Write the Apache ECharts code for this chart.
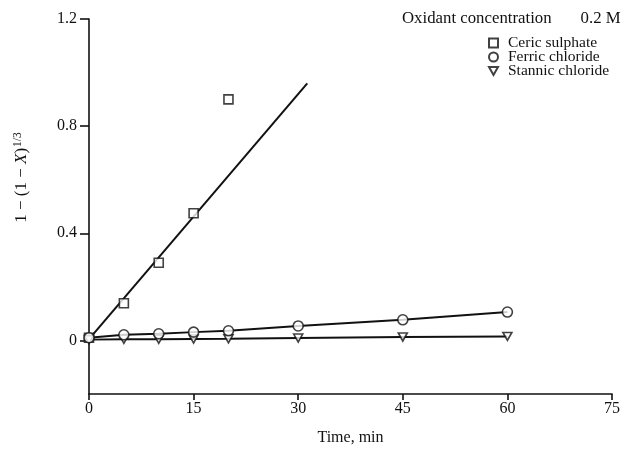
<!DOCTYPE html>
<html>
<head>
<meta charset="utf-8">
<script src="https://cdn.jsdelivr.net/npm/echarts@6/dist/echarts.min.js"></script>
<style>
html,body{margin:0;padding:0;background:#fff;}
#c{width:623px;height:451px;}
</style>
</head>
<body>
<div id="c"></div>
<script>
// Time (min) of measurements
var time = [0, 5, 10, 15, 20, 30, 45, 60];
// Ceric sulphate (measured points up to 20 min)
var cericTime = [0, 5, 10, 15, 20];
var cericY = [0.01, 0.139, 0.29, 0.475, 0.90];
// Ceric sulphate fitted line endpoints
var cericFitTime = [0, 31.3];
var cericFitY = [0.005, 0.96];
// Ferric chloride
var ferricY = [0.01, 0.021, 0.025, 0.031, 0.036, 0.054, 0.077, 0.106];
// Stannic chloride
var stannicY = [0.003, 0.004, 0.004, 0.005, 0.006, 0.009, 0.013, 0.015];
// Axis ticks
var xTicks = [0, 15, 30, 45, 60, 75];
var yTicks = [0, 0.4, 0.8, 1.2];

function pairs(xs, ys){ return xs.map(function(x,i){ return [x, ys[i]]; }); }

var serif = 'Liberation Serif';
var fs = 16;
var chart = echarts.init(document.getElementById('c'), null, {renderer:'canvas'});
var invTri = 'path://M0,0 L10,0 L5,9 Z';

chart.setOption({
  animation: false,
  backgroundColor: '#fff',
  title: {
    text: '{a|Oxidant concentration}{b|0.2 M}',
    left: 402, top: 10, padding: 0,
    textStyle: {
      fontWeight: 'normal', fontFamily: serif, fontSize: 16.8, color: '#111',
      rich: {
        a: {fontFamily: serif, fontSize: 16.8, fontWeight: 'normal', color: '#111'},
        b: {fontFamily: serif, fontSize: 16.8, fontWeight: 'normal', color: '#111', padding: [0,0,0,29]}
      }
    }
  },
  legend: {
    orient: 'vertical',
    left: 488, top: 35, padding: 0,
    itemWidth: 9, itemHeight: 9, itemGap: -2,
    data: ['Ceric sulphate', 'Ferric chloride', 'Stannic chloride'],
    textStyle: {fontFamily: serif, fontSize: 15.5, color: '#111', padding: [0,0,0,5]}
  },
  grid: {left: 89, right: 5, top: 19, bottom: 56},
  xAxis: {
    type: 'value', min: 0, max: 75, interval: 15,
    name: 'Time, min', nameLocation: 'middle', nameGap: 36,
    nameTextStyle: {fontFamily: serif, fontSize: fs, color: '#111'},
    axisLine: {onZero: false, lineStyle: {color: '#111', width: 1.6}},
    axisTick: {inside: false, length: 6, lineStyle: {color: '#111', width: 1.6}, customValues: xTicks},
    axisLabel: {fontFamily: serif, fontSize: fs, color: '#111', margin: 7, customValues: xTicks},
    splitLine: {show: false}
  },
  yAxis: {
    type: 'value', min: -0.2, max: 1.2,
    name: '{a|1 − (1 − }{i|X}{a|)}{s|1/3}', nameLocation: 'middle', nameGap: 57,
    nameRotate: 90,
    nameTextStyle: {
      fontFamily: serif, fontSize: 17, color: '#111', padding: [0,0,0,58],
      rich: {
        a: {fontFamily: serif, fontSize: 17, color: '#111'},
        i: {fontFamily: serif, fontSize: 17, fontStyle: 'italic', color: '#111'},
        s: {fontFamily: serif, fontSize: 11.5, color: '#111', verticalAlign: 'top', padding: [0,0,8,1]}
      }
    },
    axisLine: {lineStyle: {color: '#111', width: 1.6}},
    axisTick: {inside: false, length: 9, lineStyle: {color: '#111', width: 1.6}, customValues: yTicks},
    axisLabel: {fontFamily: serif, fontSize: fs, color: '#111', margin: 12, customValues: yTicks,
      formatter: function(v){ return v === 0 ? '0' : v.toFixed(1); }},
    splitLine: {show: false}
  },
  series: [
    {
      type: 'line', data: pairs(cericFitTime, cericFitY), showSymbol: false, symbol: 'none',
      lineStyle: {color: '#111', width: 2}, silent: true, z: 2
    },
    {
      type: 'line', data: pairs(time, ferricY), symbol: 'none',
      lineStyle: {color: '#111', width: 2}, silent: true, z: 2
    },
    {
      type: 'line', data: pairs(time, stannicY), symbol: 'none',
      lineStyle: {color: '#111', width: 2}, silent: true, z: 2
    },
    {
      name: 'Ceric sulphate', type: 'scatter', data: pairs(cericTime, cericY),
      symbol: 'rect', symbolSize: 9,
      itemStyle: {color: '#fff', borderColor: '#111', borderWidth: 1.6}, z: 3
    },
    {
      name: 'Ferric chloride', type: 'scatter', data: pairs(time, ferricY),
      symbol: 'circle', symbolSize: 10,
      itemStyle: {color: '#fff', borderColor: '#111', borderWidth: 1.6}, z: 4
    },
    {
      name: 'Stannic chloride', type: 'scatter', data: pairs(time, stannicY),
      symbol: invTri, symbolSize: [9, 8],
      itemStyle: {color: '#fff', borderColor: '#111', borderWidth: 1.6}, z: 3
    }
  ]
});
</script>
</body>
</html>
